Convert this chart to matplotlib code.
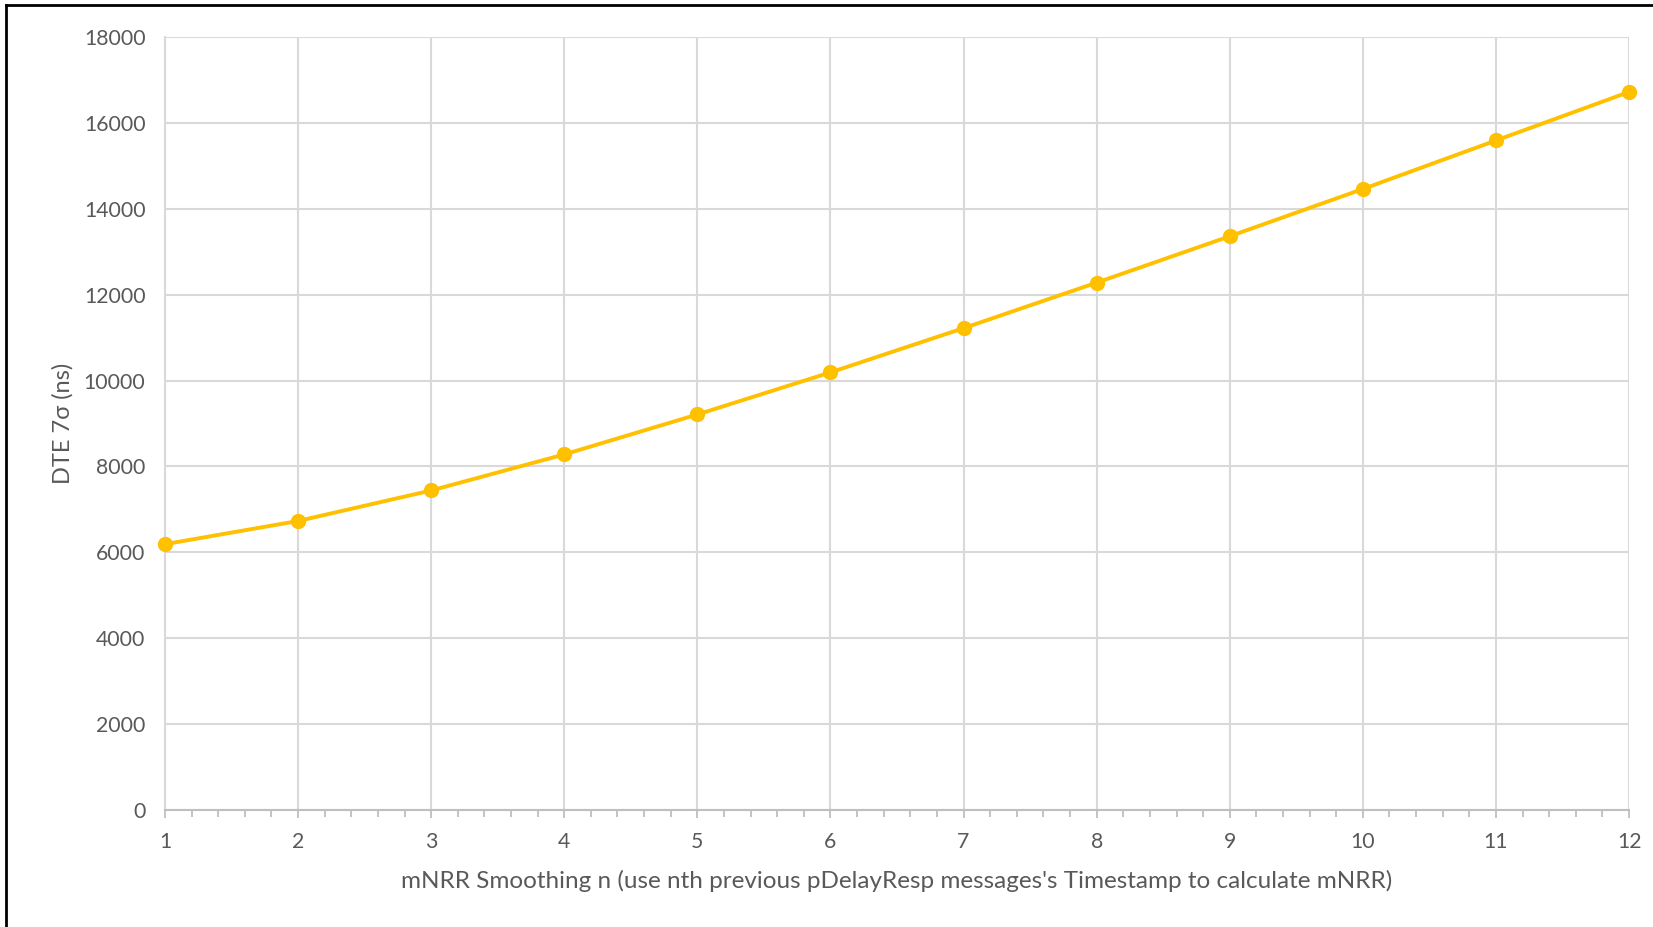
import matplotlib.pyplot as plt
from matplotlib.lines import Line2D
from matplotlib.ticker import MultipleLocator

# mNRR smoothing n vs DTE 7 sigma
smoothing_n = [1, 2, 3, 4, 5, 6, 7, 8, 9, 10, 11, 12]
dte_7sigma = [6190, 6730, 7440, 8280, 9210, 10190, 11220, 12280, 13360, 14460, 15590, 16720]

y_ticks = [0, 2000, 4000, 6000, 8000, 10000, 12000, 14000, 16000, 18000]
x_label = "mNRR Smoothing n (use nth previous pDelayResp messages's Timestamp to calculate mNRR)"
y_label = "DTE 7\u03c3 (ns)"

fonts = ['Lato', 'DejaVu Sans']
plt.rcParams['font.family'] = fonts
text_col = '#595959'
grid_col = '#d9d9d9'
gold = '#FFC000'

fig = plt.figure(figsize=(16.53, 9.27), dpi=100)
ax = fig.add_axes([0.0998, 0.1262, 0.9855 - 0.0998, 0.9601 - 0.1262])

ax.plot(smoothing_n, dte_7sigma, color=gold, lw=2.8, marker='o', ms=10,
        clip_on=False, zorder=5)

ax.set_xlim(1, 12)
ax.set_ylim(0, 18000)
ax.set_xticks(smoothing_n)
ax.xaxis.set_minor_locator(MultipleLocator(0.2))
ax.set_yticks(y_ticks)

ax.grid(True, color=grid_col, lw=1.5)
ax.set_axisbelow(True)
for s in ['top', 'right']:
    ax.spines[s].set_visible(False)
ax.spines['left'].set_color(grid_col)
ax.spines['left'].set_linewidth(1.5)
ax.spines['bottom'].set_color('#bfbfbf')
ax.spines['bottom'].set_linewidth(1.5)

ax.tick_params(axis='y', length=0, pad=14, labelsize=15.3, labelcolor=text_col)
ax.tick_params(axis='x', which='major', direction='out', length=6, width=1.3,
               color='#bfbfbf', pad=10, labelsize=15.3, labelcolor=text_col)
ax.tick_params(axis='x', which='minor', direction='out', length=5, width=1.3,
               color='#bfbfbf')

ax.set_xlabel(x_label, fontsize=17.5, color=text_col, labelpad=13)
ax.set_ylabel(y_label, fontsize=17, color=text_col, labelpad=7)

# outer frame (left and top edges visible)
fig.add_artist(Line2D([0.0036, 0.0036], [0, 0.9946], transform=fig.transFigure,
                      color='black', lw=2))
fig.add_artist(Line2D([0.0036, 1], [0.9946, 0.9946], transform=fig.transFigure,
                      color='black', lw=2))

fig.savefig('out.png', dpi=100, facecolor='white')
